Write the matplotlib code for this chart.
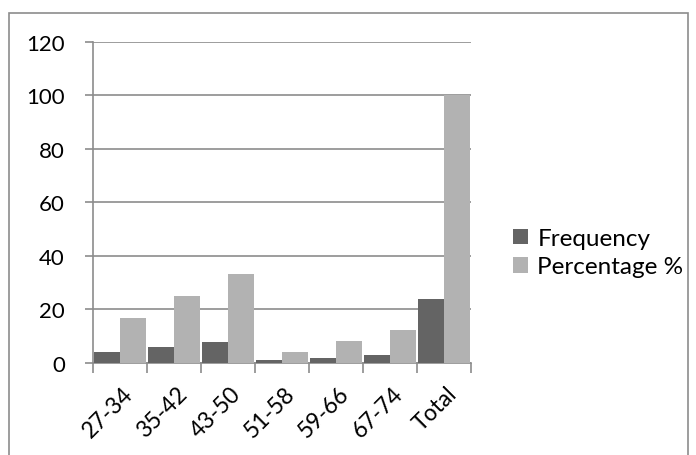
import matplotlib.pyplot as plt
import matplotlib.patches as patches
import numpy as np

categories = ["27-34", "35-42", "43-50", "51-58", "59-66", "67-74", "Total"]
frequency = [4, 6, 8, 1, 2, 3, 24]
percentage = [16.67, 25, 33.33, 4.17, 8.33, 12.5, 100]

plt.rcParams['font.family'] = ['Lato', 'DejaVu Sans']

fig = plt.figure(figsize=(6.96, 4.56), dpi=100)
ax = fig.add_axes([0.1332, 0.2018, 0.5431, 0.7046])

x = np.arange(len(categories))
w = 0.485
ax.bar(x - w / 2, frequency, w, color="#646464", label="Frequency", zorder=3)
ax.bar(x + w / 2, percentage, w, color="#b2b2b2", label="Percentage %", zorder=3)

ax.set_xlim(-0.5, len(categories) - 0.5)
ax.set_ylim(0, 120)
ax.set_yticks(range(0, 121, 20))
ax.yaxis.grid(True, color="#8c8c8c", linewidth=1.2, zorder=0)

ax.set_xticks(np.arange(len(categories) + 1) - 0.5, minor=False)
ax.set_xticklabels([])
ax.set_xticks(x + 0.05, minor=True)
ax.set_xticklabels(categories, minor=True, rotation=45, ha="right",
                   rotation_mode="anchor", fontsize=16.5)
ax.tick_params(axis="x", which="minor", length=0, pad=14)
ax.tick_params(axis="x", which="major", length=7, width=1.2, color="#8c8c8c")
ax.tick_params(axis="y", length=6, width=1.2, color="#8c8c8c", labelsize=16, pad=14)

for s in ["top", "right"]:
    ax.spines[s].set_visible(False)
for s in ["left", "bottom"]:
    ax.spines[s].set_color("#8c8c8c")
    ax.spines[s].set_linewidth(1.2)

ax.legend(loc="center left", bbox_to_anchor=(1.08, 0.343), frameon=False,
          fontsize=17.5, handlelength=0.6, handleheight=0.6, handletextpad=0.4,
          labelspacing=0.3, borderpad=0)

border = patches.Rectangle((9 / 696, -0.05), (688 - 9) / 696, 1.05 - 13.5 / 456,
                           transform=fig.transFigure, fill=False,
                           edgecolor="#8c8c8c", linewidth=1.2)
fig.patches.append(border)

plt.savefig("out.png", dpi=100)
